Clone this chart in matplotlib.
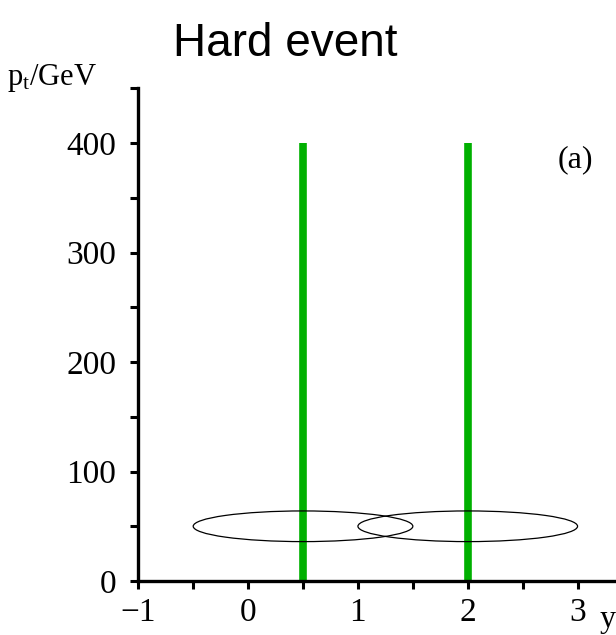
import matplotlib
matplotlib.use('Agg')
import matplotlib.pyplot as plt
from matplotlib.patches import Ellipse
from matplotlib.ticker import MultipleLocator

plt.rcParams['font.family'] = 'Liberation Serif'
plt.rcParams['mathtext.fontset'] = 'custom'
plt.rcParams['mathtext.rm'] = 'Liberation Serif'
plt.rcParams['mathtext.it'] = 'Liberation Serif'

# jets: rapidity and transverse momentum
jet_y = [0.5, 2.0]
jet_pt = [400, 400]

# jet cones (ellipses) in the y-pt plane
cone_y = [0.5, 2.0]
cone_pt = [50, 50]
cone_width = 2.0
cone_height = 28

fig = plt.figure(figsize=(6.16, 6.35), dpi=100)
ax = fig.add_axes([0.2245, 0.085, 0.7755, 0.776])

for y, pt in zip(jet_y, jet_pt):
    ax.plot([y, y], [0, pt], color='#00b000', lw=5.5, solid_capstyle='butt', zorder=2)

for y, pt in zip(cone_y, cone_pt):
    ax.add_patch(Ellipse((y, pt), cone_width, cone_height, fill=False,
                         edgecolor='black', lw=0.9, zorder=3))

ax.set_xlim(-1, 3.35)
ax.set_ylim(0, 450)

for s in ['top', 'right']:
    ax.spines[s].set_visible(False)
for s in ['left', 'bottom']:
    ax.spines[s].set_linewidth(2.4)

ax.xaxis.set_major_locator(MultipleLocator(1))
ax.xaxis.set_minor_locator(MultipleLocator(0.5))
ax.yaxis.set_major_locator(MultipleLocator(100))
ax.yaxis.set_minor_locator(MultipleLocator(50))
ax.tick_params(which='both', direction='out', length=6, width=2.2, labelsize=24)
ax.tick_params(axis='x', which='major', pad=6)
ax.tick_params(axis='y', which='major', pad=10)
ax.set_xticks([-1, 0, 1, 2, 3])
ax.set_xticklabels(['\u22121', '0', '1', '2', '3'])
ax.set_yticks([0, 100, 200, 300, 400])

fig.text(0.463, 0.965, 'Hard event', family='Liberation Sans', fontsize=33,
         ha='center', va='top')
fig.text(0.012, 0.866, r'$\mathrm{p_t}$/GeV', fontsize=22, ha='left', va='baseline')
fig.text(0.973, 0.0126, 'y', fontsize=23, ha='left', va='baseline')
ax.text(2.98, 385, '(a)', fontsize=23, ha='center', va='center')

fig.savefig('out.png', dpi=100)
